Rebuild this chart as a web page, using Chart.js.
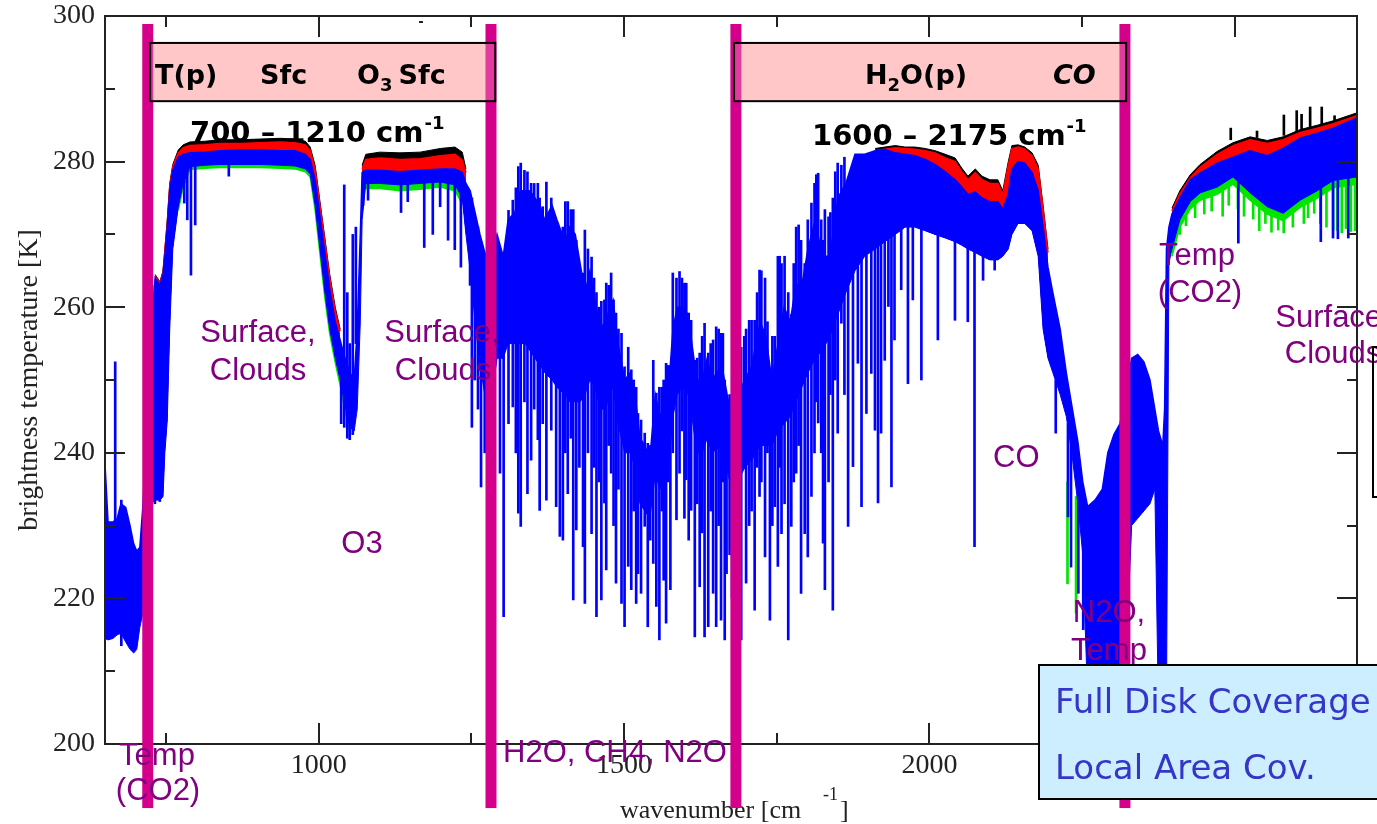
<!DOCTYPE html>
<html>
<head>
<meta charset="utf-8">
<title>Brightness temperature spectrum</title>
<script src="https://cdn.jsdelivr.net/npm/chart.js@4.4.1/dist/chart.umd.min.js"></script>
<style>
  html, body { margin: 0; padding: 0; background: #fff; }
  canvas { display: block; }
</style>
</head>
<body>
<canvas id="grafica" width="1377" height="824"></canvas>
<script>
// envolvente del espectro azul (cm-1, K)
var wn = [
  650,655,663,670,676,684,691,697,702,707,
  712,719,725,732,740,745,748,752,756,761,
  770,778,789,814,838,871,904,937,961,978,
  986,994,1002,1010,1018,1027,1035,1043,1051,1058,
  1063,1068,1071,1077,1100,1133,1166,1199,1223,1235,
  1241,1248,1256,1264,1272,1282,1292,1302,1310,1321,
  1330,1338,1346,1354,1362,1370,1382,1390,1403,1411,
  1420,1428,1436,1444,1452,1461,1469,1477,1482,1490,
  1501,1510,1518,1526,1534,1542,1551,1559,1572,1580,
  1587,1595,1605,1611,1619,1628,1636,1644,1660,1673,
  1685,1698,1709,1723,1732,1742,1752,1762,1772,1781,
  1791,1801,1813,1824,1837,1850,1863,1878,1894,1911,
  1927,1944,1960,1976,1993,2009,2026,2042,2053,2063,
  2075,2086,2099,2112,2120,2129,2135,2145,2156,2168,
  2178,2186,2194,2202,2214,2224,2233,2243,2251,2259,
  2271,2283,2292,2302,2312,2321,2331,2341,2351,2361,
  2369,2375,2382,2385,2388,2392,2397,2410,2427,2443,
  2471,2497,2525,2553,2579,2607,2635,2661,2700
];
var btTop = [
  238.5,230.5,230.5,231,233,232.5,230,227.5,226.5,227,
  232.6,245,256,264,263,264.5,267,271,276,278.8,
  280.6,281,281.2,281.3,281.5,281.6,281.6,281.5,281.5,281,
  280.3,277.5,272.5,267.5,262.5,258,255.5,253,251,250,
  257,270,278.5,278.8,278.8,278.6,278.8,279,279,278.5,
  277,276,273,270,267.5,266,270,267,272,273,
  276,276,276,275,274,272,274,272,269,271,
  270,266,262,265,261,257,258,260,261,255,
  250,251,248,242,241,239,248,245,248,257,
  260,260,259,255,250,250,253,250,252,246,
  248,250,252,258,256,250,255,260,258,263,
  263,268,272,267,267,275,277,281,281,281.5,
  281.7,281.2,281,280.8,280.3,279.6,278.6,277.5,276.5,275.5,
  275.8,275,274.5,274.5,273.5,275.5,279,280,279.8,278.5,
  276,271,265.5,262,257,251,246.5,241.5,236,232.6,
  233.5,235,240,242.5,244,248,253,253.5,252.5,250,
  246,243,241,246,268,271,272.8,275,277.5,278.4,
  279.8,280.6,281.5,280.8,281.8,283.2,283.9,284.6,286
];
var btCore = [
  214.5,214.3,214.5,215,215.2,214,213,212.5,213,216,
  218,228,233,233.5,233.5,234,240,244.5,257,268,
  273.8,277,279.3,279.5,279.6,279.6,279.6,279.5,279.4,279,
  278.3,274,268,262,257,253,250,246.5,243.5,243,
  246,258,272,277,277,276.8,277,277.2,276.8,275,
  270,265,258,252,248,247,253,253,255,255,
  255,255,254,253,252,251,250,249,248,247,
  247,247,248,250,249,246,246,248,249,244,
  240,240,238,233,232,231,237,235,237,245,
  248,249,248,245,240,240,242,240,241,236,
  236,238,239,241,241,241,243,244,245,247,
  249,251,253,254,256,259,262,265,267,268,
  269,270,271,271,270.5,270,269.5,269,268.5,268,
  267.5,267,266.5,266.5,267,268,270,271.5,271.5,270.5,
  267,257,253,251,248,245,240,233,226,206,
  205,205,205,205,205,210,230,231,232,233,
  235,204,204,204,204,266,268,272,274.5,275.7,
  276.5,277.9,275.7,273.8,272.9,274.7,276,277.4,277.9
];

// perfiles negro y rojo (solo donde se ven), null = hueco
var wnHot = [
  732,740,745,748,752,756,761,770,778,789,814,838,871,904,937,961,978,986,994,1002,1010,1018,1027,1035,1039,
  1071,1077,1100,1133,1166,1199,1223,1235,1241,1245,
  1911,1927,1944,1960,1976,1993,2009,2026,2042,2053,2063,2075,2086,2099,2112,2120,2129,2135,2145,2156,2168,2178,2186,2194,2198,
  2397,2410,2427,2443,2471,2497,2525,2553,2579,2607,2635,2661,2700
];
var btBlack = [
  264.5,263.5,265,268,272,277,279.6,281.6,282.3,282.7,282.8,283,283,283.1,283.2,283.1,282.8,282,279.5,274.5,269.5,264.5,260,257,null,
  279.5,281,281.3,281.2,281.3,281.8,282,281.3,279,null,
  281.8,282,282.2,282,282,281.8,281.5,281,280.5,279.1,278,279,278,277.5,277.5,276,280,282.2,282.3,282,281.2,279.5,274,268,null,
  273.6,276,278.2,279.6,281.4,282.6,283.4,282.9,283.4,284.4,285,285.6,286.7
];
var btRed = [
  264.3,263.3,264.8,267.7,271.6,276.6,279.3,281.2,281.9,282.2,282.3,282.5,282.5,282.6,282.7,282.6,282.3,281.5,279,274,269,264,259.5,256.7,null,
  279,280.3,280.5,280.3,280.4,280.8,281,280.2,278.5,null,
  281.5,281.7,281.9,281.8,281.7,281.5,281.2,280.5,280,278.6,277.5,278.5,277.5,277,277,275.5,279.5,281.8,282,281.7,280.8,279,273.5,267.5,null,
  273.2,275.6,277.8,279.2,281,282.2,283,282.5,283,284,284.6,285.2,286.3
];

// perfil verde (borde inferior de las ventanas)
var wnGreen = [
  770,778,789,814,838,871,904,937,961,978,986,994,1002,1010,1018,1027,1035,1043,1051,1055,
  1077,1100,1133,1166,1199,1223,1235,1238,
  2397,2410,2427,2443,2471,2497,2525,2553,2579,2607,2635,2661,2700
];
var btGreen = [
  273.3,276.5,278.9,279.1,279.2,279.2,279.2,279.1,279,278.6,277.9,273.4,267.3,261.3,256.3,252.4,249.3,245.8,242.8,null,
  276.3,276.3,276,276.2,276.5,276,274.2,null,
  267,271,273.5,274.7,275.5,276.9,274.7,272.8,271.9,273.7,275,276.4,276.9
];

// lineas de absorcion azules: posicion, tope y fondo
var lineWn = [
  652,670,680,735,743,783,788,794,801,856,
  1040,1045,1050,1054,1059,1064,1076,1084,1138,1149,
  1176,1190,1202,1215,1226,1236,1251,1254,1259,1264,
  1269,1275,1300,1306,1314,1321,1326,1330,1334,1340,
  1345,1351,1356,1362,1365,1370,1376,1384,1392,1398,
  1403,1407,1411,1416,1420,1425,1430,1436,1439,1444,
  1450,1454,1458,1462,1466,1471,1474,1478,1482,1486,
  1490,1494,1499,1504,1510,1515,1519,1523,1526,1531,
  1537,1542,1546,1551,1556,1561,1565,1568,1572,1575,
  1579,1583,1589,1594,1598,1602,1605,1609,1613,1619,
  1623,1627,1631,1635,1641,1645,1649,1654,1658,1662,
  1665,1668,1671,1676,1680,1695,1700,1703,1708,1712,
  1717,1721,1725,1728,1734,1738,1742,1746,1750,1755,
  1758,1761,1766,1772,1777,1781,1785,1789,1793,1799,
  1804,1810,1815,1818,1821,1826,1829,1832,1838,1841,
  1845,1849,1853,1859,1864,1870,1878,1886,1892,1900,
  1908,1914,1919,1924,1930,1936,1941,1946,1957,1968,
  1976,1990,2017,2045,2066,2077,2091,2110,2210,2230,
  2235,2247,2255,2509,2644,2664,2672,2689
];
var lineHi = [
  238,252.5,233.5,263,262,280.5,280.5,280.5,280.5,280.5,
  253,276.8,262,255,270,271,278,278,278,278,
  278,278,278,278,278,277,275,275,272,271,
  269,266,268,266,273.3,274.7,276.4,279.3,279.8,278.8,
  278.6,277,277,277,275,273.8,277.2,275,270.6,270,
  271,274.5,274.5,273.4,273.4,269.2,264.1,264.7,270.6,268,
  266.9,264,262,260,260.8,261,263.3,263,264.7,261,
  259.2,257,256.4,251.8,254.5,251.4,250,249,245.4,244.5,
  242.7,241.3,241,252.7,248.2,249,249,250,252.3,252,
  252,264.7,264,264.9,264,263.3,263.3,259.2,258.2,252.7,
  253,253.7,256,257.8,253.7,255,255.5,257.3,257,256.4,
  256.4,250,243.1,248,247,254.5,256,257,258.2,258.2,
  258.2,262,265.1,265,264,258,248.2,256,256,267,
  267,266,267,262,259,266,271,271.3,269.2,266,
  272,274.3,277,278.2,278.4,272,269.2,273.4,272.4,273,
  275,278.6,279.8,279.5,280.6,266,268,268,268,270,
  270,270,270,270,271,271,271,271,272,272,
  272,272,271,270,269,269,267,267,250,244,
  244,238,234,279,282,282,282,283
];
var lineLo = [
  216,217,213.5,233,233.3,274.3,272,264.4,271.3,278,
  244,243.5,242,241.8,242.5,255,274,274.7,273,274.5,
  268.2,270,273.8,269.2,267.9,265.5,263,243.5,250,246,
  235.3,240,237.2,217.5,244,246.3,240,231.7,229.9,247,
  234.4,239,246,241.8,232.1,244,233.5,243.1,232.6,228.5,
  228,240,234.4,242,219.8,229.4,238,227.1,219.3,240,
  228.9,238,217.5,236,219.8,233.1,223.9,241,237.2,230,
  222.1,235,219.3,216.1,224.4,221.2,232,219.3,223.4,220.7,
  229.9,216.1,228,224.8,218.9,214.3,232,222.5,216.6,236,
  221.2,240,230.8,237.2,243,231,236.3,228,232.1,214.7,
  233,221.6,229,214.7,216.1,232,220.7,216.1,230,217,
  236,214.3,223.4,226,220,214.3,238,222.1,230,232,
  218.4,238,234,236,225.7,240,217,230,232.6,224.4,
  238,228.9,233,214.3,229.9,236,237.2,241,220.7,228.9,
  225.7,234,240,247,244.1,240,227.6,221.2,236,248,
  218.4,250,242.7,257.8,248,229.9,238.1,252.3,232.6,245.4,
  250.9,243.1,233.1,242.7,252.7,260.1,235.3,255.5,262.4,249.5,
  261,250,255.5,258.2,258,227.1,263.7,265.1,242.7,231.2,
  224.3,220.7,215.7,268.8,269,269.5,269.4,269.5
];

// lineas verdes y negras sueltas
var gLineWn = [2226,2240,2410,2420,2435,2450,2462,2480,2490,2505,
               2515,2530,2540,2550,2560,2571,2580,2595,2613,2620,
               2630,2640,2650,2661,2668,2675,2682,2690,2697];
var gLineHi = [236,234,272,274,275,275.5,276,276,277,277,
               276,275,274,274,273,273,272.5,273,274,275,
               275.5,276,276.5,277,277,277,277,277,277.5];
var gLineLo = [222,218,270,271.2,272.3,272.8,273.2,272.5,274,273.5,
               272.5,272.1,270.5,271.5,270.3,270.6,270.2,271,271.5,272.3,
               272.9,271.5,271,270.6,270.5,270.2,270.8,270.4,270.5];
var kLineWn = [2490,2533,2577,2598,2606,2620,2639,2660];
var kLineHi = [284.6,284.2,286.4,287,286.5,287.5,287.5,286.3];
var kLineLo = [283,283.3,283.6,283.8,284,284.3,284.6,285];

// ejes
var xTicks = [1000, 1500, 2000, 2500];
var xMinor = [750, 1250, 1750, 2250];
var yTicks = [200, 220, 240, 260, 280, 300];
var yMinor = [210, 230, 250, 270, 290];

// bandas magenta (limites de canales)
var bandWn = [720, 1282, 1683, 2320];

var AZUL = '#0000ff', ROJO = '#ff0000', VERDE = '#00e600', NEGRO = '#000000';
var MAGENTA = '#d4008c', MORADO = '#800080';

function puntos(xs, ys) {
  return xs.map(function (x, i) { return { x: x, y: ys[i] }; });
}
function barras(xs, lo, hi) {
  return xs.map(function (x, i) { return { x: x, y: [lo[i], hi[i]] }; });
}

// dibuja un texto con partes sub/superindice
function textoRico(ctx, partes, x, y) {
  partes.forEach(function (p) {
    ctx.font = p[1];
    ctx.fillText(p[0], x, y + (p[2] || 0));
    x += ctx.measureText(p[0]).width + (p[3] || 0);
  });
}

var decoracion = {
  id: 'decoracion',
  afterDraw: function (chart) {
    var ctx = chart.ctx, a = chart.chartArea;
    var sx = chart.scales.x, sy = chart.scales.y;
    function X(v) { return sx.getPixelForValue(v); }
    function Y(v) { return sy.getPixelForValue(v); }
    ctx.save();

    // marco y marcas hacia dentro
    ctx.strokeStyle = '#222';
    ctx.lineWidth = 2;
    ctx.strokeRect(a.left, a.top, a.right - a.left, a.bottom - a.top);
    ctx.beginPath();
    xTicks.forEach(function (v) {
      var x = Math.round(X(v));
      ctx.moveTo(x, a.bottom); ctx.lineTo(x, a.bottom - 21);
      ctx.moveTo(x, a.top); ctx.lineTo(x, a.top + 21);
    });
    xMinor.forEach(function (v) {
      var x = Math.round(X(v));
      ctx.moveTo(x, a.bottom); ctx.lineTo(x, a.bottom - 11);
      ctx.moveTo(x, a.top); ctx.lineTo(x, a.top + 11);
    });
    yTicks.forEach(function (v) {
      var y = Math.round(Y(v));
      ctx.moveTo(a.left, y); ctx.lineTo(a.left + 20, y);
      ctx.moveTo(a.right, y); ctx.lineTo(a.right - 20, y);
    });
    yMinor.forEach(function (v) {
      var y = Math.round(Y(v));
      ctx.moveTo(a.left, y); ctx.lineTo(a.left + 10, y);
      ctx.moveTo(a.right, y); ctx.lineTo(a.right - 10, y);
    });
    ctx.stroke();
    ctx.fillStyle = '#222';
    ctx.fillRect(419, 21, 4, 2);

    // titulo eje x
    ctx.fillStyle = '#222';
    ctx.textAlign = 'left';
    ctx.textBaseline = 'alphabetic';
    ctx.font = '26px "Liberation Serif", serif';
    ctx.fillText('wavenumber [cm', 620, 818);
    ctx.font = '18px "Liberation Serif", serif';
    ctx.fillText('-1', 823, 800);
    ctx.font = '26px "Liberation Serif", serif';
    ctx.fillText(']', 840, 818);

    // cajas rosas (fondo)
    var cajas = [[724, 1289], [1680, 2322]];
    var yTop = Y(296.3), yBot = Y(288.3);
    ctx.fillStyle = '#ffc8c8';
    cajas.forEach(function (c) { ctx.fillRect(X(c[0]), yTop, X(c[1]) - X(c[0]), yBot - yTop); });

    // bandas magenta
    ctx.fillStyle = MAGENTA;
    bandWn.forEach(function (w) {
      ctx.fillRect(X(w) - 5.5, Y(298.9), 11, Y(191.2) - Y(298.9));
    });

    // cajas rosas (velo y borde)
    ctx.fillStyle = 'rgba(255,200,200,0.3)';
    ctx.strokeStyle = '#000';
    ctx.lineWidth = 2;
    cajas.forEach(function (c) {
      ctx.fillRect(X(c[0]), yTop, X(c[1]) - X(c[0]), yBot - yTop);
      ctx.strokeRect(X(c[0]), yTop, X(c[1]) - X(c[0]), yBot - yTop);
    });

    // textos en negrita
    var B = '"DejaVu Sans", sans-serif';
    ctx.fillStyle = '#000';
    ctx.font = 'bold 27px ' + B;
    ctx.fillText('T(p)', 155, 84);
    ctx.fillText('Sfc', 260, 84);
    textoRico(ctx, [['O', 'bold 27px ' + B], ['3', 'bold 18px ' + B, 7, 6], ['Sfc', 'bold 27px ' + B]], 357, 84);
    textoRico(ctx, [['H', 'bold 27px ' + B], ['2', 'bold 18px ' + B, 7], ['O(p)', 'bold 27px ' + B]], 865, 84);
    ctx.font = 'italic bold 27px ' + B;
    ctx.fillText('CO', 1053, 84);
    textoRico(ctx, [['700 \u2013 1210 cm', 'bold 29px ' + B, 0, 1], ['-1', 'bold 18px ' + B, -13]], 190, 142);
    textoRico(ctx, [['1600 \u2013 2175 cm', 'bold 29px ' + B, 0, 1], ['-1', 'bold 18px ' + B, -13]], 812, 145);

    // etiquetas moradas
    ctx.fillStyle = MORADO;
    ctx.font = '31px "Liberation Sans", Arial, sans-serif';
    ctx.textAlign = 'center';
    var etiquetas = [
      ['Temp', 157, 765], ['(CO2)', 158, 800],
      ['Surface,', 258, 342], ['Clouds', 258, 380],
      ['Surface,', 442, 342], ['Clouds', 443, 380],
      ['O3', 362, 553],
      ['N2O,', 1109, 622], ['Temp', 1109, 660],
      ['Temp', 1197, 265], ['(CO2)', 1200, 302],
      ['Surface,', 1333, 327], ['Clouds', 1333, 363]
    ];
    etiquetas.forEach(function (e) { ctx.fillText(e[0], e[1], e[2]); });
    ctx.textAlign = 'left';
    ctx.fillText('H2O, CH4, N2O', 503, 762);
    ctx.fillText('CO', 993, 467);

    // caja azul
    ctx.fillStyle = '#cceeff';
    ctx.fillRect(1039, 665, 360, 134);
    ctx.strokeStyle = '#000';
    ctx.lineWidth = 2;
    ctx.strokeRect(1039, 665, 360, 134);
    ctx.fillStyle = '#3535c8';
    ctx.font = '34px "DejaVu Sans", sans-serif';
    ctx.fillText('Full Disk Coverage', 1055, 713);
    ctx.fillText('Local Area Cov.', 1055, 779);

    // borde de la leyenda cortada
    ctx.strokeRect(1373, 347, 60, 150);

    ctx.restore();
  }
};

var fuenteEje = { family: '"Liberation Serif", serif', size: 28 };

new Chart(document.getElementById('grafica'), {
  type: 'line',
  data: {
    datasets: [
      { data: puntos(wn, btTop), borderColor: AZUL, borderWidth: 1.5, fill: false, order: 0 },
      { data: puntos(wn, btCore), borderColor: AZUL, backgroundColor: AZUL, borderWidth: 1, fill: 0, order: 1 },
      { type: 'bar', data: barras(lineWn, lineLo, lineHi), backgroundColor: AZUL, barThickness: 2, order: 2 },
      { type: 'bar', data: barras(gLineWn, gLineLo, gLineHi), backgroundColor: VERDE, barThickness: 2, order: 3 },
      { data: puntos(wnGreen, btGreen), borderColor: VERDE, backgroundColor: VERDE, borderWidth: 1.5, fill: 0, order: 4 },
      { data: puntos(wnHot, btRed), borderColor: ROJO, backgroundColor: ROJO, borderWidth: 1.5, fill: 1, order: 5 },
      { data: puntos(wnHot, btBlack), borderColor: NEGRO, backgroundColor: NEGRO, borderWidth: 1, fill: 1, order: 6 },
      { type: 'bar', data: barras(kLineWn, kLineLo, kLineHi), backgroundColor: NEGRO, barThickness: 2, order: 7 }
    ]
  },
  options: {
    responsive: false,
    animation: false,
    events: [],
    layout: { padding: { top: 16, right: 20, left: 0, bottom: 0 } },
    elements: { point: { radius: 0 }, line: { tension: 0 } },
    plugins: { legend: { display: false }, tooltip: { enabled: false } },
    scales: {
      x: {
        type: 'linear', min: 650, max: 2700, offset: false,
        grid: { display: false, drawTicks: false, offset: false },
        border: { display: false },
        afterBuildTicks: function (s) { s.ticks = xTicks.map(function (v) { return { value: v }; }); },
        afterFit: function (s) { s.height = 80; s.paddingLeft = 0; s.paddingRight = 0; },
        ticks: { font: fuenteEje, color: '#222', padding: 5, maxRotation: 0, autoSkip: false,
                 callback: function (v) { return String(v); } }
      },
      y: {
        type: 'linear', min: 200, max: 300,
        grid: { display: false, drawTicks: false },
        border: { display: false },
        afterBuildTicks: function (s) { s.ticks = yTicks.map(function (v) { return { value: v }; }); },
        afterFit: function (s) { s.width = 105; s.paddingTop = 0; s.paddingBottom = 0; },
        ticks: { font: fuenteEje, color: '#222', padding: 10, callback: function (v) { return String(v); } },
        title: { display: true, text: 'brightness temperature [K]', font: fuenteEje, color: '#222',
                 padding: { top: 13, bottom: 0 } }
      }
    }
  },
  plugins: [decoracion]
});
</script>
</body>
</html>
